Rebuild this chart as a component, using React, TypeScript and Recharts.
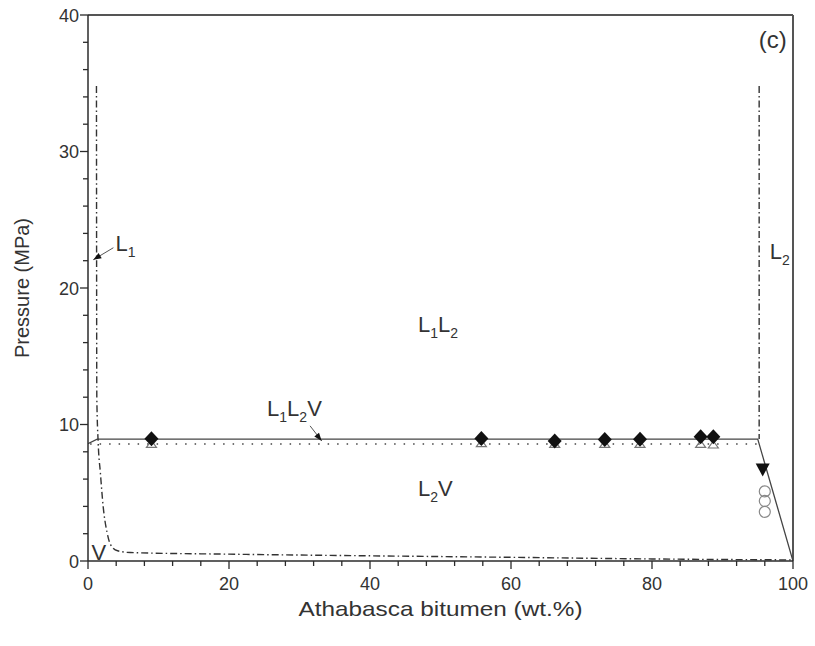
import React from "react";
import {
  ComposedChart,
  Line,
  Scatter,
  XAxis,
  YAxis,
  ReferenceLine
} from "recharts";

// axis ticks (minor + major)
const xTicks = [0, 4, 8, 12, 16, 20, 24, 28, 32, 36, 40, 44, 48, 52, 56, 60, 64, 68, 72, 76, 80, 84, 88, 92, 96, 100];
const xMajor = [0, 20, 40, 60, 80, 100];
const yTicks = [0, 2, 4, 6, 8, 10, 12, 14, 16, 18, 20, 22, 24, 26, 28, 30, 32, 34, 36, 38, 40];
const yMajor = [0, 10, 20, 30, 40];

// L1L2V upper boundary (solid)
const upperBoundary = [
  { x: 0, p: 8.6 },
  { x: 1.3, p: 8.93 },
  { x: 95, p: 8.93 },
  { x: 100, p: 0 }
];

// lower boundary (dotted)
const lowerBoundary = [
  { x: 0.3, p: 8.57 },
  { x: 95, p: 8.57 }
];

// L1 / L1V boundary (dash-dot)
const leftDashDot = [
  { x: 1.2, p: 34.8 },
  { x: 1.25, p: 12 },
  { x: 1.45, p: 8.6 },
  { x: 1.75, p: 6.5 },
  { x: 2.15, p: 4 },
  { x: 2.7, p: 2.1 },
  { x: 3.2, p: 1.2 },
  { x: 4.2, p: 0.75 },
  { x: 6, p: 0.62 },
  { x: 20, p: 0.5 },
  { x: 40, p: 0.38 },
  { x: 60, p: 0.27 },
  { x: 80, p: 0.15 },
  { x: 100, p: 0.08 }
];

// L2 boundary (dash-dot)
const rightDashDot = [
  { x: 95.2, p: 34.8 },
  { x: 95.2, p: 8.93 }
];

// measured points
const diamonds = [
  { x: 9.0, p: 8.95 },
  { x: 55.8, p: 8.97 },
  { x: 66.2, p: 8.79 },
  { x: 73.3, p: 8.9 },
  { x: 78.3, p: 8.92 },
  { x: 86.9, p: 9.1 },
  { x: 88.7, p: 9.1 }
];
const openTriangles = [
  { x: 9.0, p: 8.55 },
  { x: 55.8, p: 8.6 },
  { x: 66.2, p: 8.55 },
  { x: 73.3, p: 8.55 },
  { x: 78.3, p: 8.55 },
  { x: 86.9, p: 8.55 },
  { x: 88.7, p: 8.5 }
];
const downTriangles = [{ x: 95.7, p: 6.7 }];
const openCircles = [
  { x: 96.0, p: 5.1 },
  { x: 96.0, p: 4.4 },
  { x: 96.0, p: 3.6 }
];

// annotation arrows
const l1Arrow = [
  { x: 3.6, p: 22.95 },
  { x: 0.75, p: 22.07 }
];
const l1l2vArrow = [
  { x: 31.5, p: 9.9 },
  { x: 33.15, p: 8.8 }
];

// region labels ("_" marks a subscript)
const labels = [
  { x: 3.9, p: 22.7, text: "L_1" },
  { x: 46.8, p: 16.8, text: "L_1L_2" },
  { x: 25.4, p: 10.6, text: "L_1L_2V" },
  { x: 46.8, p: 4.74, text: "L_2V" },
  { x: 0.5, p: 0.1, text: "V" },
  { x: 96.7, p: 22.1, text: "L_2" }
];
const panelLabel = [{ x: 99.1, p: 37.6, text: "(c)" }];

const font = "'Liberation Sans', Arial, sans-serif";
const ink = "#2b2b2b";

const XTick = (props: any) => {
  const { x, y, payload } = props;
  const major = xMajor.includes(payload.value);
  return (
    <g>
      <line x1={x} x2={x} y1={y} y2={y + (major ? 8 : 5)} stroke={ink} strokeWidth={1.3} />
      {major && (
        <text x={x} y={y + 29} textAnchor="middle" fontSize={18} fontFamily={font} fill="#333">
          {payload.value}
        </text>
      )}
    </g>
  );
};

const YTick = (props: any) => {
  const { x, y, payload } = props;
  const major = yMajor.includes(payload.value);
  return (
    <g>
      <line x1={x} x2={x - (major ? 8 : 5)} y1={y} y2={y} stroke={ink} strokeWidth={1.3} />
      {major && (
        <text x={x - 9} y={y + 6.5} textAnchor="end" fontSize={18} fontFamily={font} fill="#333">
          {payload.value}
        </text>
      )}
    </g>
  );
};

const XTitle = (props: any) => {
  const vb = props.viewBox || { x: 88, y: 561, width: 705 };
  return (
    <text
      x={vb.x + vb.width / 2}
      y={vb.y + 55}
      textAnchor="middle"
      fontSize={21}
      fontFamily={font}
      fill="#333"
      textLength={284}
      lengthAdjust="spacingAndGlyphs"
    >
      Athabasca bitumen (wt.%)
    </text>
  );
};

const renderLabel = (anchor: string, size: number) => (props: any) => {
  const { cx, cy, payload } = props;
  const parts = payload.text.split(/(_.)/).filter((s: string) => s.length);
  let shifted = false;
  return (
    <text x={cx} y={cy} textAnchor={anchor} fontSize={size} fontFamily={font} fill="#333">
      {parts.map((s: string, i: number) => {
        if (s[0] === "_") {
          shifted = true;
          return (
            <tspan key={i} dy={6} fontSize={14}>
              {s.slice(1)}
            </tspan>
          );
        }
        const dy = shifted ? -6 : 0;
        shifted = false;
        return (
          <tspan key={i} dy={dy}>
            {s}
          </tspan>
        );
      })}
    </text>
  );
};

const diamondShape = (props: any) => {
  const { cx, cy } = props;
  return <polygon points={`${cx},${cy - 7.5} ${cx + 7},${cy} ${cx},${cy + 7.5} ${cx - 7},${cy}`} fill="#111" />;
};
const openTriShape = (props: any) => {
  const { cx, cy } = props;
  return (
    <polygon
      points={`${cx},${cy - 4} ${cx + 5},${cy + 3} ${cx - 5},${cy + 3}`}
      fill="none"
      stroke="#777"
      strokeWidth={1.2}
    />
  );
};
const downTriShape = (props: any) => {
  const { cx, cy } = props;
  return <polygon points={`${cx - 7},${cy - 6} ${cx + 7},${cy - 6} ${cx},${cy + 7}`} fill="#111" />;
};
const circleShape = (props: any) => {
  const { cx, cy } = props;
  return <circle cx={cx} cy={cy} r={5.5} fill="none" stroke="#888" strokeWidth={1.2} />;
};

const arrowDot = (angle: number) => (props: any) => {
  const { cx, cy, index } = props;
  if (index !== 1) return <g key={`a${index}`} />;
  return (
    <polygon
      key={`a${index}`}
      points="0,0 -8,-3 -8,3"
      transform={`translate(${cx},${cy}) rotate(${angle})`}
      fill="#111"
    />
  );
};

export default function App() {
  return (
    <div style={{ position: "absolute", left: 0, top: 0, background: "#fff" }}>
      <ComposedChart width={815} height={646} margin={{ top: 15, right: 22, bottom: 0, left: 0 }}>
        <XAxis
          type="number"
          dataKey="x"
          domain={[0, 100]}
          ticks={xTicks}
          interval={0}
          tick={<XTick />}
          tickLine={false}
          tickSize={0}
          tickMargin={0}
          height={85}
          allowDataOverflow
          axisLine={{ stroke: ink, strokeWidth: 1.5 }}
          label={<XTitle />}
        />
        <YAxis
          type="number"
          dataKey="p"
          domain={[0, 40]}
          ticks={yTicks}
          interval={0}
          tick={<YTick />}
          tickLine={false}
          tickSize={0}
          tickMargin={0}
          width={88}
          allowDataOverflow
          axisLine={{ stroke: ink, strokeWidth: 1.5 }}
          label={{
            value: "Pressure (MPa)",
            angle: -90,
            position: "insideLeft",
            offset: 22,
            fill: "#333",
            fontSize: 20,
            fontFamily: font,
            style: { textAnchor: "middle" }
          }}
        />
        <ReferenceLine y={40} stroke="#555" strokeWidth={2} />
        <ReferenceLine x={100} stroke="#555" strokeWidth={2} />

        <Line data={lowerBoundary} dataKey="p" type="linear" stroke="#444" strokeWidth={1.6} strokeDasharray="1.5 8" dot={false} isAnimationActive={false} />
        <Line data={upperBoundary} dataKey="p" type="linear" stroke="#444" strokeWidth={1.3} dot={false} isAnimationActive={false} />
        <Line data={leftDashDot} dataKey="p" type="monotone" stroke="#333" strokeWidth={1.4} strokeDasharray="7 3 1.5 3" dot={false} isAnimationActive={false} />
        <Line data={rightDashDot} dataKey="p" type="linear" stroke="#333" strokeWidth={1.4} strokeDasharray="7 3 1.5 3" dot={false} isAnimationActive={false} />
        <Line data={l1Arrow} dataKey="p" type="linear" stroke="#555" strokeWidth={1} dot={arrowDot(149)} isAnimationActive={false} />
        <Line data={l1l2vArrow} dataKey="p" type="linear" stroke="#555" strokeWidth={1} dot={arrowDot(51)} isAnimationActive={false} />

        <Scatter data={openTriangles} dataKey="p" shape={openTriShape} isAnimationActive={false} />
        <Scatter data={diamonds} dataKey="p" shape={diamondShape} isAnimationActive={false} />
        <Scatter data={downTriangles} dataKey="p" shape={downTriShape} isAnimationActive={false} />
        <Scatter data={openCircles} dataKey="p" shape={circleShape} isAnimationActive={false} />

        <Scatter data={labels} dataKey="p" shape={renderLabel("start", 22)} isAnimationActive={false} />
        <Scatter data={panelLabel} dataKey="p" shape={renderLabel("end", 24)} isAnimationActive={false} />
      </ComposedChart>
    </div>
  );
}
